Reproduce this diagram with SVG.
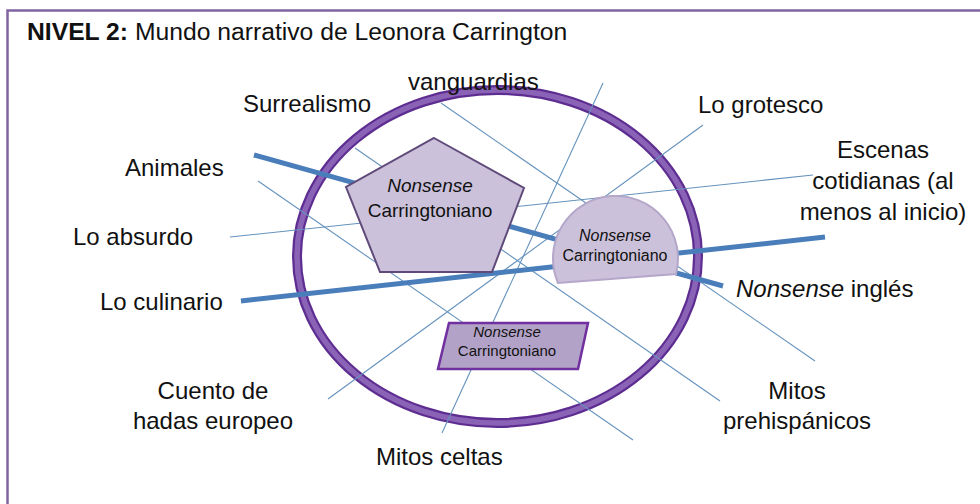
<svg xmlns="http://www.w3.org/2000/svg" width="980" height="504" viewBox="0 0 980 504">
  <style>
    text { font-family: "Liberation Sans", Arial, sans-serif; fill: #111; }
    .lbl { font-size: 24px; }
    .thin { stroke: #6592BD; stroke-width: 1.1; fill: none; }
    .thick { stroke: #4A7EBB; stroke-width: 5; fill: none; }
    .shape { fill: #CCC1DA; }
    .it { font-style: italic; }
  </style>
  <rect x="0" y="0" width="980" height="504" fill="#FFFFFF"/>
  <rect id="frame" x="7.5" y="10.5" width="1000" height="600" fill="none" stroke="#8064A2" stroke-width="2.5"/>

  <g id="ring">
    <ellipse cx="497.5" cy="256.5" rx="200.5" ry="166.5" fill="none" stroke="#5E2D91" stroke-width="10"/>
    <ellipse cx="497.5" cy="256.5" rx="200.5" ry="166.5" fill="none" stroke="#8A63B7" stroke-width="5.5"/>
  </g>

  <g id="connectors">
    <line class="thin" x1="258" y1="181" x2="633" y2="440"/>
    <line class="thin" x1="230" y1="237" x2="813" y2="175"/>
    <line class="thin" x1="355" y1="148" x2="720" y2="401"/>
    <line class="thin" x1="441" y1="103" x2="815" y2="361"/>
    <line class="thin" x1="603" y1="83" x2="442" y2="433"/>
    <line class="thin" x1="703" y1="125" x2="328" y2="399"/>
    <line class="thick" x1="254" y1="155" x2="723" y2="286"/>
    <line class="thick" x1="241" y1="301" x2="825" y2="237"/>
  </g>

  <g id="node-pentagon">
    <polygon class="shape" points="434,138 524,188 492,272 380,272 346,187" stroke="#5F4A7A" stroke-width="2"/>
    <text x="430" y="192" font-size="19" text-anchor="middle" class="it">Nonsense</text>
    <text x="430" y="217" font-size="19" text-anchor="middle">Carringtoniano</text>
  </g>

  <g id="node-semicircle">
    <path class="shape" d="M 558 283 A 62.5 62.5 0 1 1 676 274 Z" stroke="#B4A7CA" stroke-width="2"/>
    <text x="615" y="241" font-size="16" text-anchor="middle" class="it">Nonsense</text>
    <text x="615" y="261" font-size="16" text-anchor="middle">Carringtoniano</text>
  </g>

  <g id="node-parallelogram">
    <polygon points="449,323 588,323 578,369 438,369" fill="#B3A2C7" stroke="#7030A0" stroke-width="2.5"/>
    <text x="507" y="337" font-size="15" text-anchor="middle" class="it">Nonsense</text>
    <text x="507" y="356" font-size="15" text-anchor="middle">Carringtoniano</text>
  </g>

  <g id="title">
    <text x="27" y="40" font-size="24.7"><tspan font-weight="bold">NIVEL 2:</tspan> Mundo narrativo de Leonora Carrington</text>
  </g>

  <g id="label-vanguardias"><text class="lbl" x="408" y="90">vanguardias</text></g>
  <g id="label-surrealismo"><text class="lbl" x="243" y="112">Surrealismo</text></g>
  <g id="label-grotesco"><text class="lbl" x="698" y="113">Lo grotesco</text></g>
  <g id="label-animales"><text class="lbl" x="125" y="176">Animales</text></g>
  <g id="label-absurdo"><text class="lbl" x="73" y="245">Lo absurdo</text></g>
  <g id="label-culinario"><text class="lbl" x="100" y="310">Lo culinario</text></g>
  <g id="label-escenas">
    <text class="lbl" x="883" y="158" text-anchor="middle">Escenas</text>
    <text class="lbl" x="883" y="189" text-anchor="middle">cotidianas (al</text>
    <text class="lbl" x="883" y="220" text-anchor="middle">menos al inicio)</text>
  </g>
  <g id="label-nonsense-ingles"><text class="lbl" x="736" y="297"><tspan class="it">Nonsense</tspan> inglés</text></g>
  <g id="label-cuento">
    <text class="lbl" x="213" y="399" text-anchor="middle">Cuento de</text>
    <text class="lbl" x="213" y="429" text-anchor="middle">hadas europeo</text>
  </g>
  <g id="label-prehispanicos">
    <text class="lbl" x="797" y="399" text-anchor="middle">Mitos</text>
    <text class="lbl" x="797" y="429" text-anchor="middle">prehispánicos</text>
  </g>
  <g id="label-celtas"><text class="lbl" x="376" y="465">Mitos celtas</text></g>
</svg>
